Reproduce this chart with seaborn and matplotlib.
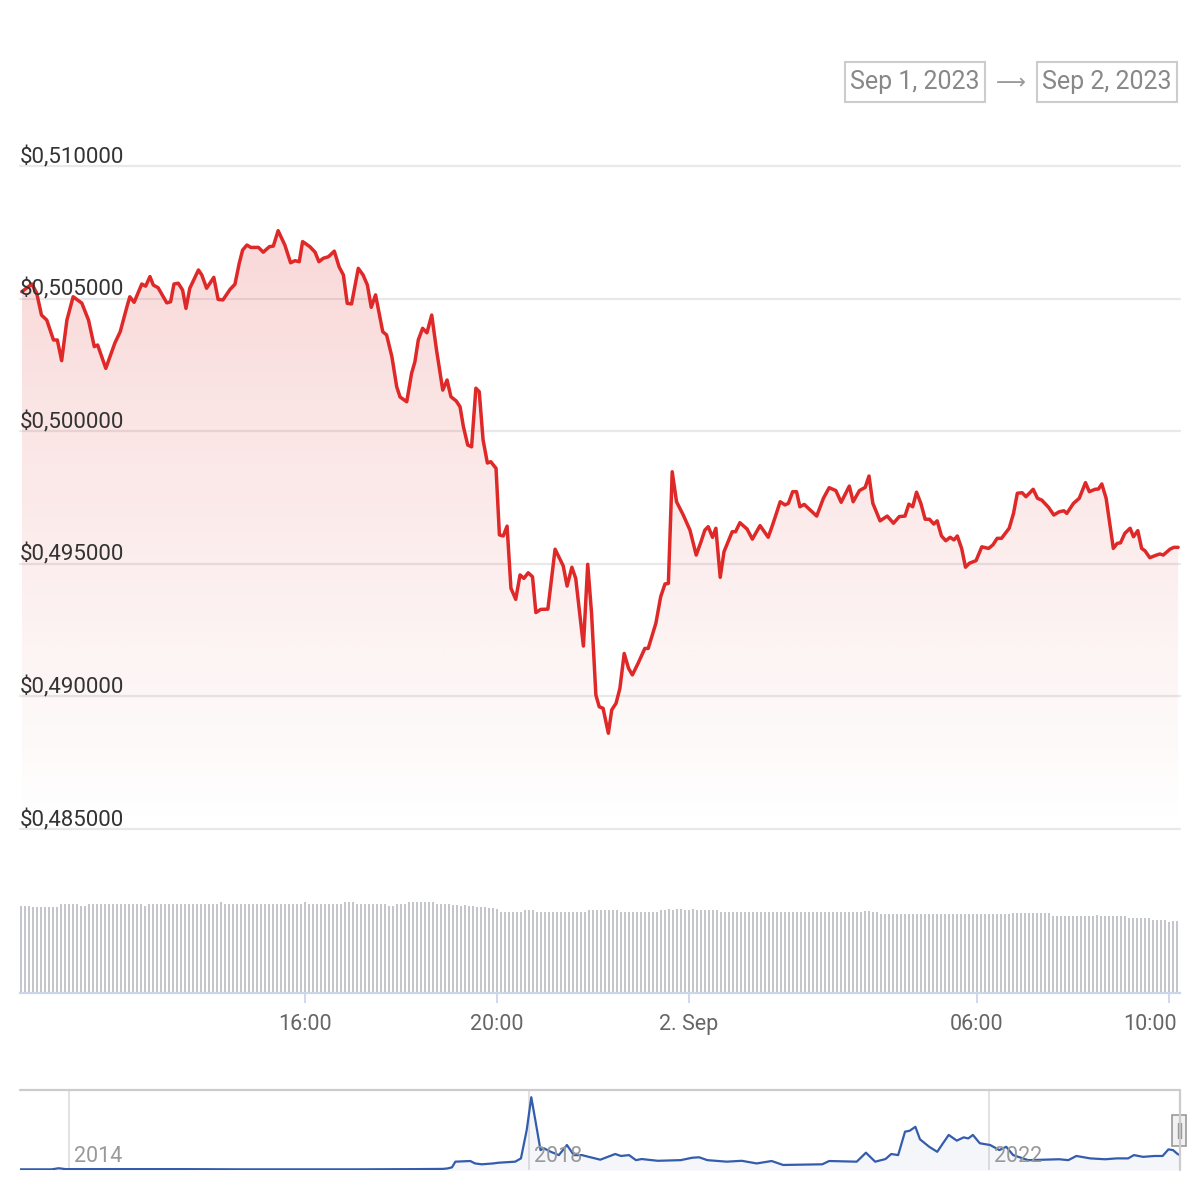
import numpy as np
import pandas as pd
import matplotlib
matplotlib.use("Agg")
import matplotlib.pyplot as plt
import matplotlib.dates as mdates
import matplotlib.transforms as mtrans
from matplotlib.patches import Polygon, Rectangle
from matplotlib.lines import Line2D
import seaborn as sns
from datetime import datetime, timedelta

# ---------------- data ----------------
# price line: hours since 2023-09-01 00:00, price in USD
price_hours = [
    10.10, 10.31, 10.41, 10.51, 10.62, 10.76, 10.84, 10.93, 11.04, 11.17,
    11.35, 11.49, 11.61, 11.68, 11.85, 12.04, 12.15, 12.29, 12.35, 12.44,
    12.60, 12.68, 12.77, 12.84, 12.94, 13.12, 13.20, 13.27, 13.36, 13.45,
    13.52, 13.60, 13.78, 13.85, 13.95, 14.10, 14.19, 14.29, 14.44, 14.54,
    14.63, 14.70, 14.79, 14.87, 15.03, 15.13, 15.26, 15.34, 15.44, 15.58,
    15.70, 15.79, 15.88, 15.95, 16.10, 16.21, 16.29, 16.38, 16.49, 16.61,
    16.71, 16.80, 16.88, 16.97, 17.11, 17.21, 17.30, 17.38, 17.47, 17.62,
    17.70, 17.81, 17.91, 17.98, 18.12, 18.22, 18.29, 18.36, 18.45, 18.54,
    18.64, 18.74, 18.87, 18.96, 19.04, 19.15, 19.23, 19.30, 19.39, 19.47,
    19.56, 19.63, 19.71, 19.80, 19.87, 19.98, 20.05, 20.13, 20.21, 20.29,
    20.39, 20.48, 20.56, 20.65, 20.74, 20.81, 20.91, 21.06, 21.21, 21.38,
    21.46, 21.56, 21.64, 21.80, 21.89, 21.97, 22.06, 22.13, 22.21, 22.32,
    22.39, 22.48, 22.56, 22.65, 22.74, 22.82, 22.94, 23.08, 23.15, 23.31,
    23.41, 23.50, 23.57, 23.65, 23.74, 23.88, 24.02, 24.15, 24.25, 24.33,
    24.40, 24.49, 24.56, 24.65, 24.73, 24.90, 24.97, 25.06, 25.21, 25.32,
    25.48, 25.65, 25.74, 25.90, 26.00, 26.07, 26.16, 26.24, 26.31, 26.40,
    26.66, 26.80, 26.92, 27.06, 27.17, 27.34, 27.42, 27.55, 27.67, 27.75,
    27.83, 27.98, 28.13, 28.26, 28.38, 28.50, 28.58, 28.66, 28.74, 28.83,
    28.92, 29.01, 29.10, 29.17, 29.26, 29.35, 29.44, 29.52, 29.59, 29.68,
    29.76, 29.84, 29.98, 30.10, 30.24, 30.33, 30.42, 30.51, 30.67, 30.76,
    30.84, 30.94, 31.02, 31.17, 31.26, 31.35, 31.49, 31.60, 31.71, 31.81,
    31.87, 32.01, 32.13, 32.26, 32.34, 32.46, 32.53, 32.60, 32.69, 32.84,
    32.92, 32.99, 33.08, 33.19, 33.26, 33.35, 33.43, 33.50, 33.60, 33.74,
    33.81, 33.88, 34.02, 34.10, 34.19,
]
price_values = [
    0.50526, 0.50555, 0.50521, 0.50438, 0.50419, 0.50344, 0.50344, 0.50266, 0.50419, 0.50507,
    0.50483, 0.50419, 0.50319, 0.50325, 0.50237, 0.50333, 0.50375, 0.50469, 0.50507, 0.50486,
    0.50555, 0.50547, 0.50583, 0.50551, 0.50541, 0.50484, 0.50488, 0.50555, 0.50558, 0.50532,
    0.50463, 0.50539, 0.50608, 0.50589, 0.50539, 0.50580, 0.50497, 0.50495, 0.50535, 0.50554,
    0.50633, 0.50683, 0.50702, 0.50693, 0.50693, 0.50675, 0.50696, 0.50698, 0.50756, 0.50702,
    0.50635, 0.50643, 0.50639, 0.50715, 0.50696, 0.50675, 0.50639, 0.50652, 0.50658, 0.50679,
    0.50620, 0.50589, 0.50482, 0.50480, 0.50614, 0.50589, 0.50551, 0.50467, 0.50514, 0.50375,
    0.50363, 0.50281, 0.50168, 0.50129, 0.50111, 0.50218, 0.50262, 0.50344, 0.50388, 0.50371,
    0.50438, 0.50306, 0.50155, 0.50193, 0.50130, 0.50114, 0.50092, 0.50017, 0.49948, 0.49941,
    0.50162, 0.50149, 0.49967, 0.49880, 0.49885, 0.49860, 0.49609, 0.49605, 0.49642, 0.49408,
    0.49366, 0.49458, 0.49445, 0.49466, 0.49451, 0.49316, 0.49328, 0.49329, 0.49555, 0.49492,
    0.49416, 0.49487, 0.49445, 0.49190, 0.49498, 0.49313, 0.49005, 0.48961, 0.48955, 0.48861,
    0.48949, 0.48974, 0.49030, 0.49162, 0.49106, 0.49081, 0.49125, 0.49181, 0.49181, 0.49276,
    0.49376, 0.49424, 0.49426, 0.49847, 0.49734, 0.49684, 0.49627, 0.49533, 0.49583, 0.49627,
    0.49640, 0.49600, 0.49634, 0.49449, 0.49546, 0.49621, 0.49621, 0.49655, 0.49631, 0.49593,
    0.49644, 0.49600, 0.49646, 0.49734, 0.49722, 0.49728, 0.49772, 0.49772, 0.49715, 0.49724,
    0.49680, 0.49747, 0.49787, 0.49776, 0.49732, 0.49793, 0.49734, 0.49776, 0.49788, 0.49831,
    0.49728, 0.49662, 0.49680, 0.49653, 0.49678, 0.49680, 0.49725, 0.49715, 0.49770, 0.49728,
    0.49668, 0.49668, 0.49650, 0.49662, 0.49605, 0.49587, 0.49600, 0.49590, 0.49605, 0.49558,
    0.49487, 0.49502, 0.49512, 0.49564, 0.49558, 0.49571, 0.49596, 0.49596, 0.49634, 0.49690,
    0.49766, 0.49768, 0.49753, 0.49781, 0.49747, 0.49740, 0.49713, 0.49684, 0.49696, 0.49700,
    0.49690, 0.49728, 0.49747, 0.49806, 0.49772, 0.49781, 0.49782, 0.49801, 0.49747, 0.49558,
    0.49577, 0.49579, 0.49615, 0.49634, 0.49602, 0.49625, 0.49558, 0.49549, 0.49523, 0.49533,
    0.49537, 0.49533, 0.49555, 0.49562, 0.49562,
]

# volume bars, one per 5 minutes starting 10:05 on Sep 1 (relative heights)
volume_start = "2023-09-01 10:05"
volume_values = [
    87, 87, 87, 86, 86, 86, 86, 86, 86, 86, 89, 89,
    89, 89, 89, 87, 87, 89, 89, 89, 89, 89, 89, 89,
    89, 89, 89, 89, 89, 89, 89, 87, 89, 89, 89, 89,
    89, 89, 89, 89, 89, 89, 89, 89, 89, 89, 89, 89,
    89, 89, 91, 89, 89, 89, 89, 89, 89, 89, 89, 89,
    89, 89, 89, 89, 89, 89, 89, 89, 89, 89, 89, 91,
    89, 89, 89, 89, 89, 89, 89, 89, 89, 91, 91, 91,
    89, 89, 89, 89, 89, 89, 89, 89, 87, 87, 89, 89,
    89, 91, 91, 91, 91, 91, 91, 91, 89, 89, 89, 89,
    88, 88, 87, 88, 87, 87, 86, 86, 86, 85, 85, 84,
    81, 81, 81, 81, 81, 81, 83, 83, 83, 81, 81, 81,
    81, 81, 81, 81, 81, 81, 81, 81, 81, 81, 83, 83,
    83, 83, 83, 83, 83, 83, 81, 81, 81, 81, 81, 81,
    81, 81, 81, 81, 83, 83, 84, 83, 84, 84, 83, 83,
    84, 83, 83, 83, 83, 83, 83, 81, 81, 81, 81, 81,
    81, 81, 81, 81, 81, 81, 81, 81, 81, 81, 81, 81,
    81, 81, 81, 81, 81, 81, 81, 81, 81, 81, 81, 81,
    81, 81, 81, 81, 81, 81, 81, 82, 82, 81, 81, 79,
    79, 79, 79, 79, 79, 79, 79, 79, 79, 79, 79, 79,
    79, 79, 79, 79, 79, 79, 79, 79, 79, 79, 79, 79,
    79, 79, 79, 79, 79, 79, 79, 79, 80, 80, 80, 80,
    80, 80, 80, 80, 80, 80, 77, 77, 77, 77, 77, 77,
    77, 77, 77, 77, 77, 78, 77, 77, 77, 77, 77, 77,
    77, 75, 75, 75, 75, 75, 75, 73, 73, 73, 73, 71,
    72, 72,
]

# navigator (full history) : decimal year, price in USD
nav_year = [
    2013.57, 2013.85, 2013.91, 2013.97, 2014.50, 2015.00, 2015.50, 2016.00, 2016.50, 2017.00,
    2017.25, 2017.29, 2017.33, 2017.36, 2017.49, 2017.53, 2017.59, 2017.69, 2017.73, 2017.79,
    2017.88, 2017.93, 2017.98, 2018.02, 2018.06, 2018.10, 2018.13, 2018.19, 2018.26, 2018.33,
    2018.39, 2018.46, 2018.52, 2018.62, 2018.75, 2018.80, 2018.87, 2018.93, 2018.98, 2019.12,
    2019.32, 2019.42, 2019.48, 2019.55, 2019.72, 2019.85, 2019.98, 2020.11, 2020.21, 2020.55,
    2020.61, 2020.85, 2020.93, 2021.01, 2021.10, 2021.15, 2021.21, 2021.27, 2021.31, 2021.36,
    2021.40, 2021.48, 2021.55, 2021.60, 2021.65, 2021.72, 2021.78, 2021.82, 2021.86, 2021.92,
    2022.01, 2022.09, 2022.15, 2022.21, 2022.34, 2022.61, 2022.69, 2022.76, 2022.88, 2023.01,
    2023.11, 2023.21, 2023.26, 2023.34, 2023.44, 2023.51, 2023.56, 2023.60, 2023.64, 2023.66,
]
nav_price = [
    0.01, 0.01, 0.06, 0.02, 0.02, 0.02, 0.01, 0.01, 0.01, 0.02,
    0.03, 0.05, 0.10, 0.36, 0.39, 0.28, 0.24, 0.28, 0.31, 0.33,
    0.36, 0.51, 1.80, 3.30, 2.11, 0.89, 0.97, 0.81, 0.66, 1.12,
    0.66, 0.66, 0.58, 0.45, 0.71, 0.62, 0.66, 0.43, 0.48, 0.40,
    0.43, 0.54, 0.56, 0.43, 0.36, 0.40, 0.28, 0.39, 0.21, 0.24,
    0.39, 0.36, 0.77, 0.36, 0.48, 0.71, 0.66, 1.73, 1.77, 1.95,
    1.38, 1.04, 0.81, 1.20, 1.58, 1.32, 1.47, 1.42, 1.58, 1.20,
    1.12, 0.89, 1.04, 0.66, 0.43, 0.47, 0.43, 0.62, 0.51, 0.47,
    0.51, 0.51, 0.66, 0.58, 0.62, 0.62, 0.92, 0.89, 0.71, 0.66,
]

y_ticks = [0.485, 0.490, 0.495, 0.500, 0.505, 0.510]
x_tick_hours = [16, 20, 24, 30, 34]
x_tick_labels = ["16:00", "20:00", "2. Sep", "06:00", "10:00"]
nav_tick_years = [2014, 2018, 2022]
range_labels = ["Sep 1, 2023", "Sep 2, 2023"]

# ---------------- style ----------------
sns.set_theme(style="white")
plt.rcParams["font.family"] = ["Roboto", "DejaVu Sans"]

RED = "#df2828"
GRID = "#e9e9e9"
AXIS = "#ccd6eb"
NAV = "#335cad"

W = H = 1200
fig = plt.figure(figsize=(12, 12), dpi=100)
fig.patch.set_facecolor("white")


def rect(l, t, r, b):
    return [l / W, 1 - b / H, (r - l) / W, (b - t) / H]


base = datetime(2023, 9, 1)
h_left, h_right = 10.0625, 34.229
t_left = base + timedelta(hours=h_left)
t_right = base + timedelta(hours=h_right)

# ---------------- main price chart ----------------
ax = fig.add_axes(rect(20, 166, 1180, 829))
times = [base + timedelta(hours=h) for h in price_hours]
df = pd.DataFrame({"time": times, "price": price_values})

ymin, ymax = 0.485, 0.510
xn = mdates.date2num(times)
pv = np.array(price_values)
verts = np.column_stack([np.r_[xn[0], xn, xn[-1]], np.r_[ymin, pv, ymin]])
poly = Polygon(verts, closed=True, facecolor="none", edgecolor="none")
ax.add_patch(poly)
grad = np.zeros((256, 1, 4))
grad[..., :3] = matplotlib.colors.to_rgb(RED)
grad[:, 0, 3] = np.linspace(0.0, 0.2, 256)
im = ax.imshow(grad, extent=[xn[0], xn[-1], ymin, ymax], origin="lower",
               aspect="auto", zorder=1, interpolation="bilinear")
im.set_clip_path(poly)

sns.lineplot(data=df, x="time", y="price", ax=ax, color=RED, linewidth=2.5,
             zorder=3, solid_joinstyle="round")

for v in y_ticks:
    ax.axhline(v, color=GRID, lw=1.6, zorder=0, clip_on=False)
    ax.annotate("$" + f"{v:.6f}".replace(".", ","), xy=(0, v),
                xycoords=("axes fraction", "data"), xytext=(0, 3),
                textcoords="offset pixels", ha="left", va="baseline",
                fontsize=16, color="#333333", zorder=4)

ax.set_xlim(t_left, t_right)
ax.set_ylim(ymin, ymax)
ax.set_xticks([])
ax.set_yticks([])
ax.set_xlabel("")
ax.set_ylabel("")
for s in ax.spines.values():
    s.set_visible(False)
ax.patch.set_alpha(0)

# ---------------- volume ----------------
axv = fig.add_axes(rect(20, 880, 1180, 993))
vol_times = pd.date_range(volume_start, periods=len(volume_values), freq="5min")
axv.bar(vol_times, volume_values, width=timedelta(minutes=2.3), color="#c4c6cc",
        align="center", linewidth=0)
axv.set_xlim(t_left, t_right)
axv.set_ylim(0, 113)
axv.set_yticks([])
axv.set_xticks([base + timedelta(hours=h) for h in x_tick_hours])
axv.set_xticklabels(x_tick_labels)
axv.tick_params(axis="x", direction="out", length=7, width=1.3, color=AXIS,
                labelcolor="#666666", labelsize=15.5, pad=8, bottom=True)
last = axv.get_xticklabels()[-1]
last.set_horizontalalignment("right")
last.set_transform(last.get_transform() +
                   mtrans.ScaledTranslation(8 / 100, 0, fig.dpi_scale_trans))
for k, s in axv.spines.items():
    s.set_visible(k == "bottom")
axv.spines["bottom"].set_color(AXIS)
axv.spines["bottom"].set_linewidth(1.6)
axv.patch.set_alpha(0)

# ---------------- navigator ----------------
axn = fig.add_axes(rect(20, 1090, 1180, 1170))
nav_df = pd.DataFrame({"year": nav_year, "price": nav_price})
axn.fill_between(nav_year, nav_price, -0.02, color=NAV, alpha=0.05, linewidth=0)
sns.lineplot(data=nav_df, x="year", y="price", ax=axn, color=NAV, linewidth=1.6)
axn.set_xlim(2013.574, 2023.661)
axn.set_ylim(-0.02, 3.63)
for yr in nav_tick_years:
    axn.axvline(yr, color="#e2e2e2", lw=1.4, zorder=0)
    axn.annotate(str(yr), xy=(yr, 0), xycoords=("data", "axes fraction"),
                 xytext=(5, 8), textcoords="offset pixels", ha="left",
                 va="baseline", fontsize=15.5, color="#999999")
axn.set_xticks([])
axn.set_yticks([])
axn.set_xlabel("")
axn.set_ylabel("")
for s in axn.spines.values():
    s.set_visible(False)
axn.patch.set_alpha(0)

# navigator outline & handle
fig.add_artist(Line2D([20 / W, 1180 / W], [1 - 1090 / H, 1 - 1090 / H],
                      color="#cccccc", lw=1.6, transform=fig.transFigure))
fig.add_artist(Line2D([1180 / W, 1180 / W], [1 - 1090 / H, 1 - 1170 / H],
                      color="#cccccc", lw=1.6, transform=fig.transFigure))
fig.add_artist(Rectangle((1172 / W, 1 - 1146 / H), 14 / W, 31 / H,
                         facecolor="#f2f2f2", edgecolor="#999999", lw=1.2,
                         transform=fig.transFigure))
for xx in (1177.5, 1180.5):
    fig.add_artist(Line2D([xx / W, xx / W], [1 - 1123 / H, 1 - 1138 / H],
                          color="#999999", lw=1.0, transform=fig.transFigure))

# ---------------- range selector boxes ----------------
for (l, r), lab in zip([(845, 985), (1037, 1177)], range_labels):
    fig.add_artist(Rectangle((l / W, 1 - 102 / H), (r - l) / W, 40 / H,
                             facecolor="white", edgecolor="#cccccc", lw=1.5,
                             transform=fig.transFigure))
    fig.text((l + r) / 2 / W, 1 - 82 / H, lab, ha="center", va="center",
             fontsize=18, color="#888888")
fig.text(1011 / W, 1 - 83 / H, "\u27f6", ha="center", va="center",
         fontsize=15, color="#999999", family=["DejaVu Sans"])

fig.savefig("out.png", dpi=100, facecolor="white")
